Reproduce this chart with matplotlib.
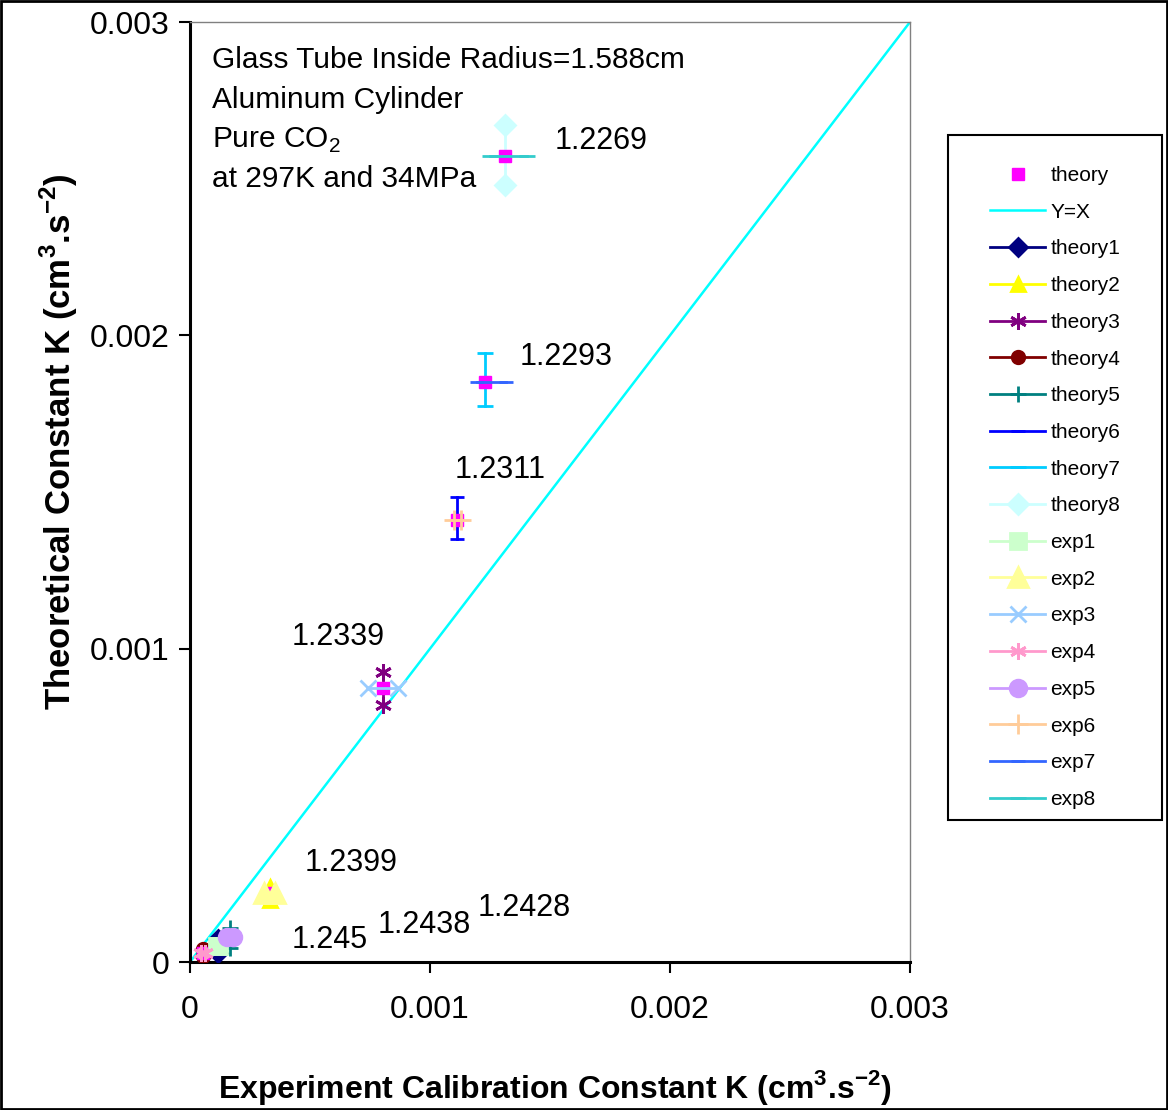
import matplotlib
matplotlib.use("Agg")
import matplotlib.pyplot as plt
from matplotlib.patches import Rectangle

plt.rcParams['font.family'] = ['Liberation Sans', 'DejaVu Sans']
plt.rcParams['mathtext.fontset'] = 'custom'
plt.rcParams['mathtext.rm'] = 'Liberation Sans'
plt.rcParams['mathtext.bf'] = 'Liberation Sans:bold'

# centre points (experiment K, theoretical K)
exp_k = [0.117e-3, 0.333e-3, 0.804e-3, 0.054e-3, 0.168e-3, 1.1125e-3, 1.229e-3, 1.3125e-3]
theory_k = [0.051e-3, 0.220e-3, 0.875e-3, 0.029e-3, 0.080e-3, 1.411e-3, 1.851e-3, 2.573e-3]
ratios = ["1.2438", "1.2399", "1.2339", "1.245", "1.2428", "1.2311", "1.2293", "1.2269"]

# theory uncertainty (vertical pairs) and experiment uncertainty (horizontal pairs)
theory_lo = [0.029e-3, 0.198e-3, 0.820e-3, 0.018e-3, 0.045e-3, 1.350e-3, 1.775e-3, 2.480e-3]
theory_hi = [0.073e-3, 0.240e-3, 0.926e-3, 0.040e-3, 0.108e-3, 1.484e-3, 1.944e-3, 2.672e-3]
exp_lo = [0.112e-3, 0.310e-3, 0.742e-3, 0.046e-3, 0.155e-3, 1.100e-3, 1.196e-3, 1.250e-3]
exp_hi = [0.122e-3, 0.355e-3, 0.867e-3, 0.062e-3, 0.180e-3, 1.130e-3, 1.317e-3, 1.404e-3]

# label placement (data coords, left / centre)
label_pos = [(0.783e-3, 0.118e-3), (0.479e-3, 0.316e-3), (0.425e-3, 1.037e-3),
             (0.425e-3, 0.070e-3), (1.200e-3, 0.172e-3), (1.104e-3, 1.570e-3),
             (1.375e-3, 1.931e-3), (1.520e-3, 2.620e-3)]

theory_styles = [('#000080', 'D', 9), ('#ffff00', '^', 10), ('#800080', (6, 2, 0), 12),
                 ('#800000', 'o', 9), ('#008080', '+', 12), ('#0000ff', '_', 10),
                 ('#00ccff', '_', 12), ('#ccffff', 'D', 10)]
exp_styles = [('#ccffcc', 's', 11), ('#ffff99', '^', 14), ('#99ccff', 'x', 12),
              ('#ff99cc', (6, 2, 0), 12), ('#cc99ff', 'o', 12), ('#ffcc99', '+', 14),
              ('#3366ff', '_', 10), ('#33cccc', '_', 12)]

fig = plt.figure(figsize=(11.68, 11.1), dpi=100)
ax = fig.add_axes([190 / 1168, 1 - 962 / 1110, 720 / 1168, 940 / 1110])

ax.plot(exp_k, theory_k, 's', color='#ff00ff', ms=9, ls='none', label='theory', zorder=4)
ax.plot([0, 0.003], [0, 0.003], color='#00ffff', lw=1.8, label='Y=X', zorder=2)

for i, (c, m, s) in enumerate(theory_styles):
    ax.plot([exp_k[i], exp_k[i]], [theory_lo[i], theory_hi[i]], color=c, marker=m,
            ms=s, mew=2, lw=2, label='theory%d' % (i + 1), zorder=3)
for i, (c, m, s) in enumerate(exp_styles):
    ax.plot([exp_lo[i], exp_hi[i]], [theory_k[i], theory_k[i]], color=c, marker=m,
            ms=s, mew=2, lw=2, label='exp%d' % (i + 1), zorder=5)

for r, (tx, ty) in zip(ratios, label_pos):
    ax.text(tx, ty, r, fontsize=22, va='center', ha='left')

info = ["Glass Tube Inside Radius=1.588cm", "Aluminum Cylinder",
        "Pure CO$_2$", "at 297K and 34MPa"]
for txt, yy in zip(info, [0.9596, 0.917, 0.874, 0.833]):
    ax.text(0.0306, yy, txt, transform=ax.transAxes, fontsize=21.5, va='center')

ax.set_xlim(0, 0.003)
ax.set_ylim(0, 0.003)
ax.set_xticks([0, 0.001, 0.002, 0.003])
ax.set_yticks([0, 0.001, 0.002, 0.003])
ax.set_xticklabels(['0', '0.001', '0.002', '0.003'])
ax.set_yticklabels(['0', '0.001', '0.002', '0.003'])
ax.tick_params(direction='out', length=8, width=1.5, labelsize=23)
ax.tick_params(axis='x', pad=16)
ax.tick_params(axis='y', pad=7)

for side in ['left', 'bottom']:
    ax.spines[side].set_linewidth(2.2)
    ax.spines[side].set_color('black')
for side in ['top', 'right']:
    ax.spines[side].set_linewidth(1)
    ax.spines[side].set_color('#808080')

ax.set_xlabel(r'Experiment Calibration Constant K (cm$^\mathbf{3}$.s$^\mathbf{-2}$)',
              fontsize=23, fontweight='bold')
ax.set_ylabel(r'Theoretical Constant K (cm$^\mathbf{3}$.s$^\mathbf{-2}$)',
              fontsize=25, fontweight='bold')
ax.xaxis.set_label_coords(0.507, -0.113)
ax.yaxis.set_label_coords(-0.153, 0.553)

handles, labels = ax.get_legend_handles_labels()
leg = fig.legend(handles, labels, loc='upper left', bbox_to_anchor=(990 / 1168, 1 - 166 / 1110),
                 fontsize=15, frameon=False, borderpad=0, borderaxespad=0,
                 labelspacing=0.85, handlelength=2.64, handletextpad=0.25)

# legend box and outer chart border
fig.patches.append(Rectangle((948 / 1168, 1 - 820 / 1110), 214 / 1168, 685 / 1110,
                             transform=fig.transFigure, fill=False, edgecolor='black', lw=1.5))
fig.patches.append(Rectangle((0.001, 0.001), 0.998, 0.998, transform=fig.transFigure,
                             fill=False, edgecolor='black', lw=2))

fig.savefig('out.png', dpi=100)
